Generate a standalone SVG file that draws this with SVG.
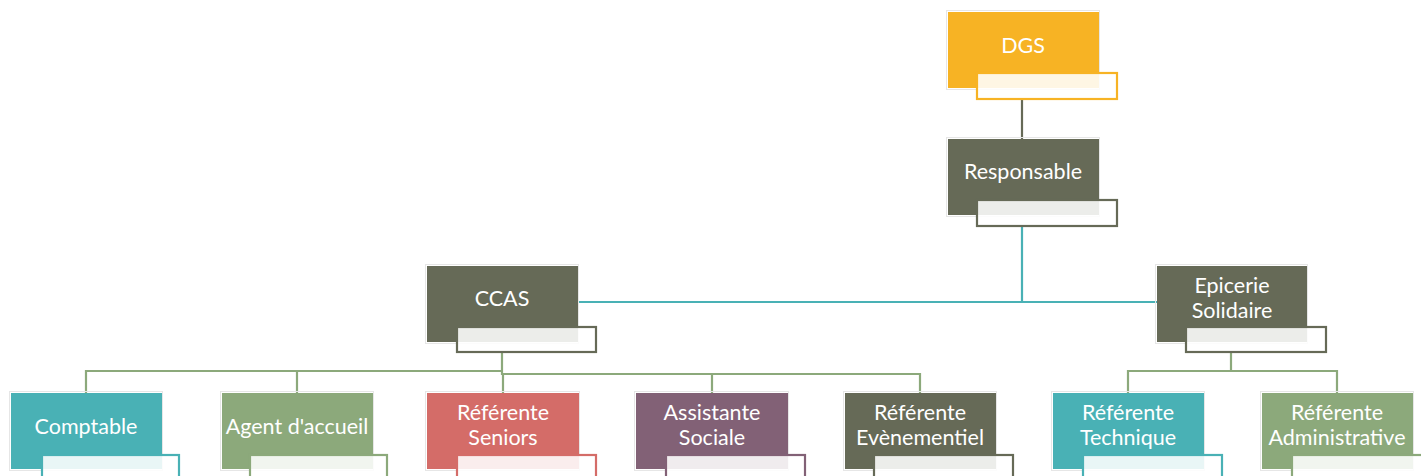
<svg xmlns="http://www.w3.org/2000/svg" width="1421" height="476" viewBox="0 0 1421 476">
<style>
.t{font-family:"Lato","Open Sans","Liberation Sans",sans-serif;font-size:21.5px;fill:#ffffff;text-anchor:middle}
.sub{fill:#ffffff;fill-opacity:0.88;stroke-width:2.2}
.halo{fill:none;stroke:#e6e6e6;stroke-width:1}
.c{fill:none;stroke-width:2.2}
.orange{fill:#f7b324}.orangeS{stroke:#f7b324}
.gray{fill:#666a57}.grayS{stroke:#666a57}
.teal{fill:#49b1b5}.tealS{stroke:#49b1b5}
.green{fill:#8ca97b}.greenS{stroke:#8ca97b}
.red{fill:#d46c68}.redS{stroke:#d46c68}
.purple{fill:#826176}.purpleS{stroke:#826176}
</style>
<rect width="1421" height="476" fill="#ffffff"/>
<g id="connectors">
<path class="c grayS" d="M1022 99 V139"/>
<path class="c tealS" d="M1022 226 V302 H578 M1022 302 H1157"/>
<path class="c greenS" d="M502 352 V371 H86 V393 M297 371 V393 M502 352 V374 H920 V393 M503 374 V393 M712 374 V393"/>
<path class="c greenS" d="M1231 352 V371 H1128 V393 M1231 352 V371 H1337 V393"/>
</g>
<g id="n-dgs">
<rect x="946.5" y="10.5" width="153" height="79" class="halo"/>
<rect x="948" y="12" width="151" height="76" class="orange"/>
<text x="1023" y="53" class="t">DGS</text>
<rect x="977" y="73" width="140" height="26" class="sub orangeS"/>
</g>
<g id="n-responsable">
<rect x="946.5" y="137.5" width="153" height="79" class="halo"/>
<rect x="948" y="139" width="151" height="76" class="gray"/>
<text x="1023" y="179" class="t">Responsable</text>
<rect x="977" y="200" width="140" height="26" class="sub grayS"/>
</g>
<g id="n-ccas">
<rect x="425.5" y="264.5" width="153" height="79" class="halo"/>
<rect x="427" y="266" width="151" height="76" class="gray"/>
<text x="502" y="306" class="t">CCAS</text>
<rect x="457" y="327" width="139" height="25" class="sub grayS"/>
</g>
<g id="n-epicerie">
<rect x="1155.5" y="264.5" width="152" height="79" class="halo"/>
<rect x="1157" y="266" width="150" height="76" class="gray"/>
<text x="1232" y="293" class="t">Epicerie</text>
<text x="1232" y="318" class="t">Solidaire</text>
<rect x="1186" y="327" width="140" height="25" class="sub grayS"/>
</g>
<g id="n-comptable">
<rect x="9.5" y="391.5" width="153" height="79" class="halo"/>
<rect x="11" y="393" width="151" height="76" class="teal"/>
<text x="86" y="434" class="t">Comptable</text>
<rect x="42" y="455" width="137" height="30" class="sub tealS"/>
</g>
<g id="n-agent">
<rect x="220.5" y="391.5" width="153" height="79" class="halo"/>
<rect x="222" y="393" width="151" height="76" class="green"/>
<text x="297" y="434" class="t">Agent d'accueil</text>
<rect x="250" y="455" width="137" height="30" class="sub greenS"/>
</g>
<g id="n-seniors">
<rect x="425.5" y="391.5" width="154" height="79" class="halo"/>
<rect x="427" y="393" width="152" height="76" class="red"/>
<text x="503" y="420" class="t">Référente</text>
<text x="503" y="445" class="t">Seniors</text>
<rect x="457" y="455" width="139" height="30" class="sub redS"/>
</g>
<g id="n-assistante">
<rect x="634.5" y="391.5" width="154" height="79" class="halo"/>
<rect x="636" y="393" width="152" height="76" class="purple"/>
<text x="712" y="420" class="t">Assistante</text>
<text x="712" y="445" class="t">Sociale</text>
<rect x="666" y="455" width="139" height="30" class="sub purpleS"/>
</g>
<g id="n-evenementiel">
<rect x="843.5" y="391.5" width="153" height="79" class="halo"/>
<rect x="845" y="393" width="151" height="76" class="gray"/>
<text x="920" y="420" class="t">Référente</text>
<text x="920" y="445" class="t">Evènementiel</text>
<rect x="874" y="455" width="139" height="30" class="sub grayS"/>
</g>
<g id="n-technique">
<rect x="1051.5" y="391.5" width="153" height="79" class="halo"/>
<rect x="1053" y="393" width="151" height="76" class="teal"/>
<text x="1128" y="420" class="t">Référente</text>
<text x="1128" y="445" class="t">Technique</text>
<rect x="1083" y="455" width="139" height="30" class="sub tealS"/>
</g>
<g id="n-administrative">
<rect x="1260.5" y="391.5" width="153" height="79" class="halo"/>
<rect x="1262" y="393" width="151" height="76" class="green"/>
<text x="1337" y="420" class="t">Référente</text>
<text x="1337" y="445" class="t">Administrative</text>
<rect x="1292" y="455" width="139" height="30" class="sub greenS"/>
</g>
</svg>
